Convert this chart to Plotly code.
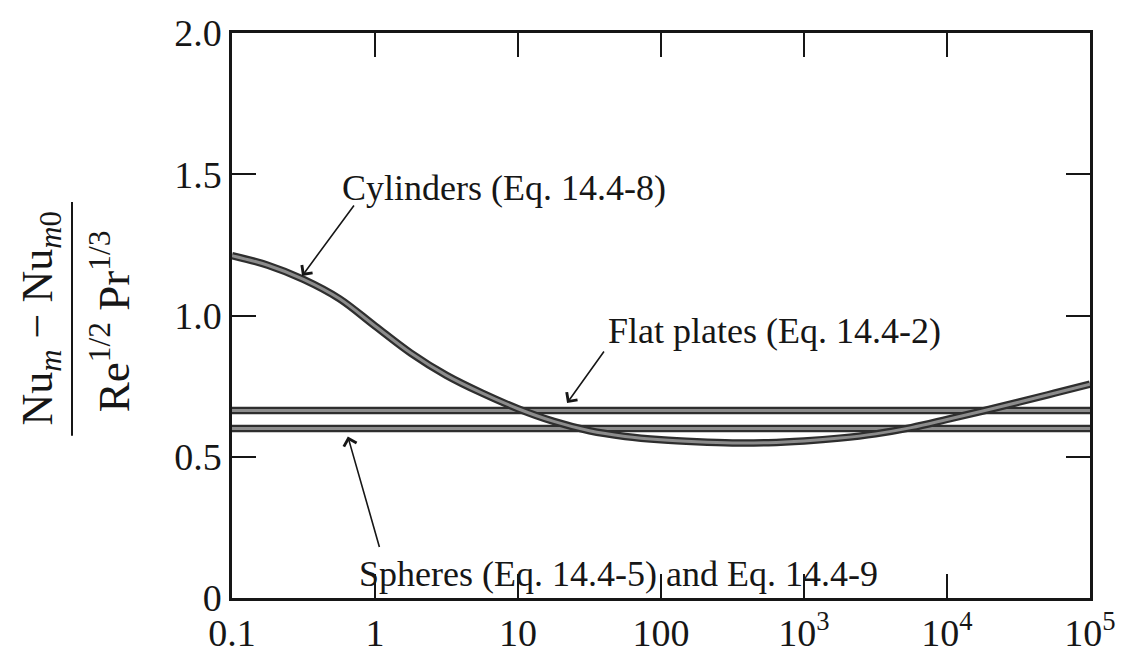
import plotly.graph_objects as go

# ---- data ----
re_cyl = [0.1, 0.178, 0.316, 0.562, 1, 1.78, 3.16, 5.62, 10, 17.8, 31.6, 56.2, 100,
          178, 316, 562, 1000, 1778, 3162, 5623, 10000, 17783, 31623, 56234, 100000]
cyl_vals = [1.212, 1.178, 1.128, 1.060, 0.963, 0.867, 0.788, 0.725, 0.670, 0.625, 0.592, 0.572, 0.560,
            0.553, 0.549, 0.550, 0.556, 0.566, 0.581, 0.603, 0.632, 0.662, 0.693, 0.725, 0.757]

re_line = [0.1, 100000]
flat_vals = [0.664, 0.664]
sphere_vals = [0.60, 0.60]

x_tickvals = [0.1, 1, 10, 100, 1000, 10000, 100000]
x_ticktext = ["0.1", "1", "10", "100", "10<sup>3</sup>", "10<sup>4</sup>", "10<sup>5</sup>"]
y_tickvals = [0, 0.5, 1.0, 1.5, 2.0]
y_ticktext = ["0", "0.5", "1.0", "1.5", "2.0"]

FONT = "Liberation Serif"
W, H = 1130, 666
L, R, T, B = 232, 40, 25, 63
PW, PH = W - L - R, H - T - B
INK = "#161616"


def px2paper(px, py):
    return (px - L) / PW, (H - B - py) / PH


fig = go.Figure()


def banded(x, y, shape="linear"):
    fig.add_trace(go.Scatter(x=x, y=y, mode="lines",
                             line=dict(color="#2e2e2e", width=7.5, shape=shape, smoothing=1.0),
                             hoverinfo="skip", showlegend=False))
    fig.add_trace(go.Scatter(x=x, y=y, mode="lines",
                             line=dict(color="#8c8c8c", width=3, shape=shape, smoothing=1.0),
                             hoverinfo="skip", showlegend=False))


banded(re_line, flat_vals)
banded(re_line, sphere_vals)
banded(re_cyl, cyl_vals, shape="spline")

fig.update_layout(
    width=W, height=H,
    margin=dict(l=L, r=R, t=T, b=B),
    paper_bgcolor="white", plot_bgcolor="white",
    font=dict(family=FONT, size=38, color=INK),
    showlegend=False,
)
axis_common = dict(ticks="inside", ticklen=24, tickwidth=1.5, tickcolor=INK,
                   showline=True, linecolor=INK, linewidth=2.5, mirror="ticks",
                   showgrid=False, zeroline=False, tickfont=dict(size=38, color=INK))
fig.update_xaxes(type="log", range=[-1, 5], tickvals=x_tickvals, ticktext=x_ticktext, **axis_common)
fig.update_yaxes(range=[0, 2.0], tickvals=y_tickvals, ticktext=y_ticktext, **axis_common)

ann = []
# text labels
ann.append(dict(x=-0.245, y=1.453, xref="x", yref="y", text="Cylinders (Eq. 14.4-8)", showarrow=False,
                xanchor="left", yanchor="middle", font=dict(size=36)))
ann.append(dict(x=1.615, y=0.945, xref="x", yref="y", text="Flat plates (Eq. 14.4-2)", showarrow=False,
                xanchor="left", yanchor="middle", font=dict(size=36)))
ann.append(dict(x=-0.126, y=0.0865, xref="x", yref="y", text="Spheres (Eq. 14.4-5) and Eq. 14.4-9", showarrow=False,
                xanchor="left", yanchor="middle", font=dict(size=36)))
# arrows
arrow_style = dict(showarrow=True, arrowhead=4, arrowsize=1.6, arrowwidth=1.6, arrowcolor=INK, text="",
                   xref="x", yref="y", axref="pixel", ayref="pixel")
ann.append(dict(x=-0.51, y=1.14, ax=53, ay=-72, **arrow_style))
ann.append(dict(x=1.343, y=0.69, ax=38, ay=-53, **arrow_style))
ann.append(dict(x=-0.19, y=0.572, ax=32, ay=112, **arrow_style))

# y-axis title as a fraction
nx, ny = px2paper(40, 317)
dx, dy = px2paper(110, 320)
ann.append(dict(x=nx, y=ny, xref="paper", yref="paper", text="Nu<sub><i>m</i></sub> − Nu<sub><i>m</i>0</sub>",
                showarrow=False, textangle=-90, xanchor="center", yanchor="middle", font=dict(size=44)))
ann.append(dict(x=dx, y=dy, xref="paper", yref="paper", text="Re<sup>1/2</sup> Pr<sup>1/3</sup>",
                showarrow=False, textangle=-90, xanchor="center", yanchor="middle", font=dict(size=45)))
fig.update_layout(annotations=ann)

bx, by0 = px2paper(72, 198)
_, by1 = px2paper(72, 437)
fig.add_shape(type="line", xref="paper", yref="paper", x0=bx, x1=bx, y0=by0, y1=by1,
              line=dict(color=INK, width=2))

fig.write_html("out.html")
